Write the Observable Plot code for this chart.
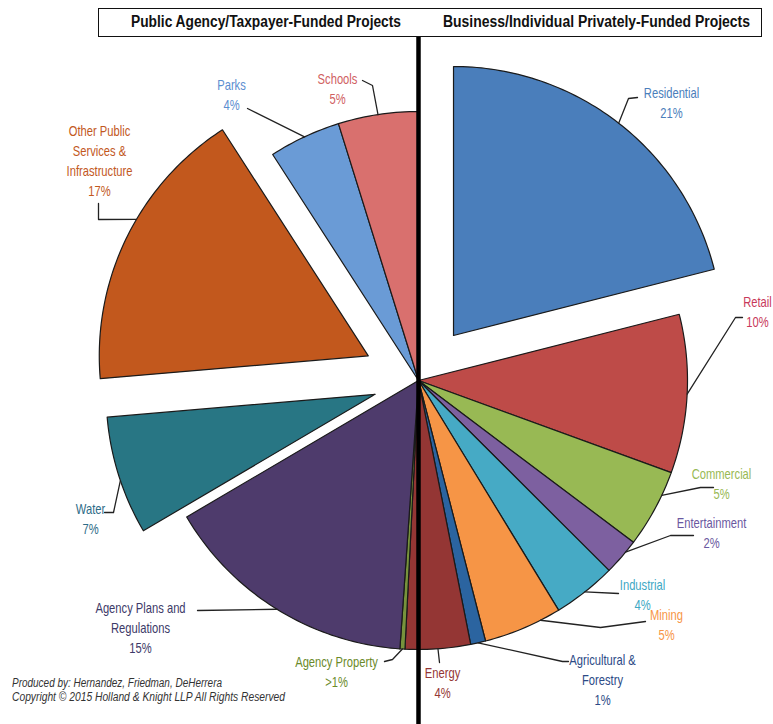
<!DOCTYPE html>
<html><head><meta charset="utf-8">
<script src="https://cdn.jsdelivr.net/npm/d3@7"></script>
<script src="https://cdn.jsdelivr.net/npm/@observablehq/plot@0.6"></script>
<style>
body{margin:0;background:#fff;}
#wrap{position:relative;width:773px;height:724px;overflow:hidden;background:#fff;font-family:'Liberation Sans',Arial,sans-serif;}
#header{position:absolute;left:98px;top:8px;width:662px;height:27px;border:1.5px solid #111;}
.ht{position:absolute;top:4px;font-weight:bold;font-size:16px;color:#111;white-space:nowrap;transform-origin:0 50%;}
#chart{position:absolute;left:0;top:37px;}
.ft{position:absolute;left:12px;font-style:italic;font-size:12px;color:#333;white-space:nowrap;transform-origin:0 50%;}
</style></head>
<body>
<div id="wrap">
  <div id="header">
    <div class="ht" data-cx="167" data-w="270">Public Agency/Taxpayer-Funded Projects</div>
    <div class="ht" data-cx="497" data-w="307">Business/Individual Privately-Funded Projects</div>
  </div>
  <div id="chart"></div>
  <div class="ft" style="top:676px" data-w="210">Produced by: Hernandez, Friedman, DeHerrera</div>
  <div class="ft" style="top:690px" data-w="273">Copyright © 2015 Holland &amp; Knight LLP All Rights Reserved</div>
</div>
<script>
// ---- data ----
const categories = ["Residential","Retail","Commercial","Entertainment","Industrial","Mining","Agricultural & Forestry","Energy","Agency Property","Agency Plans and Regulations","Water","Other Public Services & Infrastructure","Parks","Schools"];
const shares = [21.0, 9.5, 4.7, 2.2, 3.8, 4.7, 0.9, 3.9, 0.3, 15.4, 7.1, 17.2, 4.3, 4.8];
const pctLabels = ["21%","10%","5%","2%","4%","5%","1%","4%",">1%","15%","7%","17%","4%","5%"];
const labelLines = [["Residential"],["Retail"],["Commercial"],["Entertainment"],["Industrial"],["Mining"],["Agricultural &","Forestry"],["Energy"],["Agency Property"],["Agency Plans and","Regulations"],["Water"],["Other Public","Services &","Infrastructure"],["Parks"],["Schools"]];

// ---- styles ----
const sliceColors = ["#4a7ebb","#be4b48","#98b954","#7d60a0","#46aac5","#f69546","#2b64a0","#943634","#77933c","#4e3b6c","#287684","#c2581d","#6a9bd6","#d9706e"];
const textColors  = ["#4a7ebb","#c8385a","#98b954","#6a58a0","#3ea8c4","#f79646","#2c4a86","#943634","#6b8a2a","#3d3a68","#2e6c88","#c2581d","#5b8ed0","#d0605f"];
// explosion distance (fraction of radius)
const explode = [0.212,0,0,0,0,0,0,0,0,0,0.169,0.208,0,0];

// ---- label layout: pixel offsets from pie centre (dy down), leader attach fraction t, leader points ----
const R = 269;
const labelPos = [[253,-279],[339,-70],[303,102],[293,151],[224,213],[248,243],[184,298],[24,301],[-82,290],[-278,246],[-328,137],[-319,-221],[-187,-287],[-81,-293]];
const leaderT = [0.5,0.5,0.31,0.34,0.5,0.26,0.5,0.5,0.5,0.5,0.46,0.57,0.5,0.5];
const leaderPts = [
  [[210,-282],[219,-283]],
  [[317,-63],[324,-63]],
  [[282,107],[295,107]],
  [[252,155],[275,155]],
  [[200,213]],
  [[182,247],[227,241]],
  [[144,281],[150,281]],
  [[21,282]],
  [[-26,279],[-34,281]],
  [[-221,230]],
  [[-305,132],[-314,132]],
  [[-320,-161],[-320,-177]],
  [[-171,-272]],
  [[-46,-295],[-56,-300]]
];

// ---- build geometry ----
const arcs = d3.pie().sort(null).startAngle(0).endAngle(2*Math.PI)(shares);
const slicePts = [];
const leaders = [];
const labels = [];
arcs.forEach((a, i) => {
  const mid = (a.startAngle + a.endAngle)/2;
  const ox = explode[i]*Math.sin(mid), oy = explode[i]*Math.cos(mid);
  const n = Math.max(2, Math.ceil((a.endAngle - a.startAngle)/(Math.PI/180)));
  slicePts.push({k:i, x:ox, y:oy, c:sliceColors[i]});
  for (let j = 0; j <= n; j++) {
    const t = a.startAngle + (a.endAngle - a.startAngle)*j/n;
    slicePts.push({k:i, x:ox + Math.sin(t), y:oy + Math.cos(t), c:sliceColors[i]});
  }
  const th = a.startAngle + leaderT[i]*(a.endAngle - a.startAngle);
  leaders.push({k:i, x:ox + Math.sin(th), y:oy + Math.cos(th)});
  leaderPts[i].forEach(p => leaders.push({k:i, x:p[0]/R, y:-p[1]/R}));
  labels.push({x:labelPos[i][0]/R, y:-labelPos[i][1]/R, text:[...labelLines[i], pctLabels[i]].join("\n"), c:textColors[i]});
});

const chart = Plot.plot({
  width: 773, height: 687,
  marginTop: 0, marginRight: 0, marginBottom: 0, marginLeft: 0,
  x: {domain: [-1, 1], range: [149, 687], axis: null},
  y: {domain: [-1, 1], range: [612, 74], axis: null},
  color: {type: "identity"},
  style: {background: "#fff", fontFamily: "'Liberation Sans',Arial,sans-serif", overflow: "visible"},
  marks: [
    Plot.line(slicePts, {x: "x", y: "y", z: "k", fill: "c", stroke: "#1a1a1a", strokeWidth: 1.2, curve: "linear-closed"}),
    Plot.line(leaders, {x: "x", y: "y", z: "k", stroke: "#222", strokeWidth: 1.3}),
    Plot.ruleX([0], {stroke: "#000", strokeWidth: 4.5}),
    Plot.text(labels, {x: "x", y: "y", text: "text", fill: "c", fontSize: 14, lineHeight: 1.43, lineAnchor: "middle", textAnchor: "middle"})
  ]
});
document.getElementById("chart").appendChild(chart);
// condense label text (narrow face look)
chart.querySelectorAll('g[aria-label="text"] text').forEach(t => {
  t.setAttribute("transform", (t.getAttribute("transform") || "") + " scale(0.8,1)");
});
// fit header and footer texts to their widths
document.querySelectorAll(".ht, .ft").forEach(el => {
  const w = el.getBoundingClientRect().width;
  const s = (+el.dataset.w) / w;
  if (el.dataset.cx) el.style.left = (+el.dataset.cx - (+el.dataset.w)/2) + "px";
  el.style.transform = `scaleX(${s})`;
});
</script>
</body></html>
